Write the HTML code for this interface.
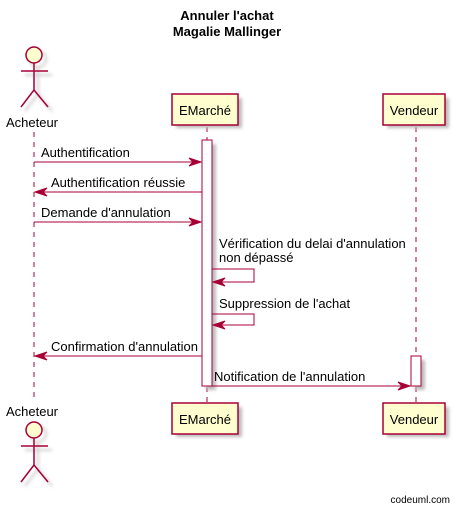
<!DOCTYPE html>
<html><head><meta charset="utf-8"><style>body{margin:0;background:#fff}svg{display:block}text{font-family:"Liberation Sans",sans-serif;font-size:13px;fill:#000}</style></head><body>
<svg width="454" height="508" viewBox="0 0 454 508" xmlns="http://www.w3.org/2000/svg">
<defs><filter id="sh" x="-20%" y="-20%" width="150%" height="150%"><feGaussianBlur stdDeviation="1.5"/></filter></defs>
<text x="227" y="20" text-anchor="middle" font-weight="bold" style="font-size:13px">Annuler l'achat</text>
<text x="227" y="36" text-anchor="middle" font-weight="bold" style="font-size:13px">Magalie Mallinger</text>
<g stroke="#A80036" stroke-dasharray="5,5" stroke-width="1">
<line x1="34" y1="132" x2="34" y2="400"/><line x1="207" y1="127" x2="207" y2="403"/><line x1="416" y1="127" x2="416" y2="403"/>
</g>
<g fill="#bbb" filter="url(#sh)">
<rect x="176" y="98" width="66" height="30"/><rect x="387" y="98" width="62" height="30"/>
<rect x="176" y="407" width="66" height="30"/><rect x="387" y="407" width="62" height="30"/>
<rect x="206" y="144" width="10" height="246"/><rect x="415" y="360" width="10" height="30"/>
</g>
<g stroke="#ccc" stroke-width="2" fill="none" filter="url(#sh)">
<circle cx="38" cy="59" r="8"/><line x1="38" y1="67" x2="38" y2="94"/><line x1="25" y1="75" x2="52" y2="75"/><polyline points="25,111 38,94 52,111"/>
<circle cx="38" cy="434" r="8"/><line x1="38" y1="442" x2="38" y2="469"/><line x1="25" y1="450" x2="52" y2="450"/><polyline points="25,486 38,469 52,486"/>
</g>
<g fill="#FEFECE" stroke="#A80036" stroke-width="1.5">
<rect x="172" y="94" width="66" height="31"/><rect x="383" y="94" width="62" height="31"/>
<rect x="172" y="403" width="66" height="31"/><rect x="383" y="403" width="62" height="31"/>
</g>
<rect x="202" y="140" width="10" height="246" fill="#fff" stroke="#A80036"/>
<rect x="411" y="356" width="10" height="30" fill="#fff" stroke="#A80036"/>
<text x="205" y="115" text-anchor="middle">EMarché</text><text x="414" y="115" text-anchor="middle">Vendeur</text>
<text x="205" y="424" text-anchor="middle">EMarché</text><text x="414" y="424" text-anchor="middle">Vendeur</text>
<g stroke="#A80036" stroke-width="1.5" fill="none">
<circle cx="34" cy="55" r="8" fill="#FEFECE"/><line x1="34" y1="63" x2="34" y2="90"/><line x1="21" y1="71" x2="48" y2="71"/><polyline points="21,107 34,90 48,107"/>
<circle cx="34" cy="430" r="8" fill="#FEFECE"/><line x1="34" y1="438" x2="34" y2="465"/><line x1="21" y1="446" x2="48" y2="446"/><polyline points="21,482 34,465 48,482"/>
</g>
<text x="32" y="127" text-anchor="middle">Acheteur</text>
<text x="32" y="416" text-anchor="middle">Acheteur</text>
<g stroke="#A80036" stroke-width="1" fill="#A80036">
<line x1="34" y1="162" x2="201" y2="162"/><polygon points="201,162 189,158 193,162 189,166"/>
<line x1="36" y1="192" x2="202" y2="192"/><polygon points="35,192 47,188 43,192 47,196"/>
<line x1="34" y1="222" x2="201" y2="222"/><polygon points="201,222 189,218 193,222 189,226"/>
<polyline points="212,269 254,269 254,282 214,282" fill="none"/><polygon points="213,282 225,278 221,282 225,286"/>
<polyline points="212,314 254,314 254,325 214,325" fill="none"/><polygon points="213,325 225,321 221,325 225,329"/>
<line x1="36" y1="356" x2="202" y2="356"/><polygon points="35,356 47,352 43,356 47,360"/>
<line x1="212" y1="386" x2="410" y2="386"/><polygon points="410,386 398,382 402,386 398,390"/>
</g>
<text x="41" y="157">Authentification</text>
<text x="51" y="187">Authentification réussie</text>
<text x="41" y="217">Demande d'annulation</text>
<text x="219" y="248">Vérification du delai d'annulation</text>
<text x="219" y="262">non dépassé</text>
<text x="219" y="308">Suppression de l'achat</text>
<text x="51" y="351">Confirmation d'annulation</text>
<text x="214" y="381">Notification de l'annulation</text>
<text x="450" y="503" text-anchor="end" style="font-size:10px">codeuml.com</text>
</svg>
</body></html>
